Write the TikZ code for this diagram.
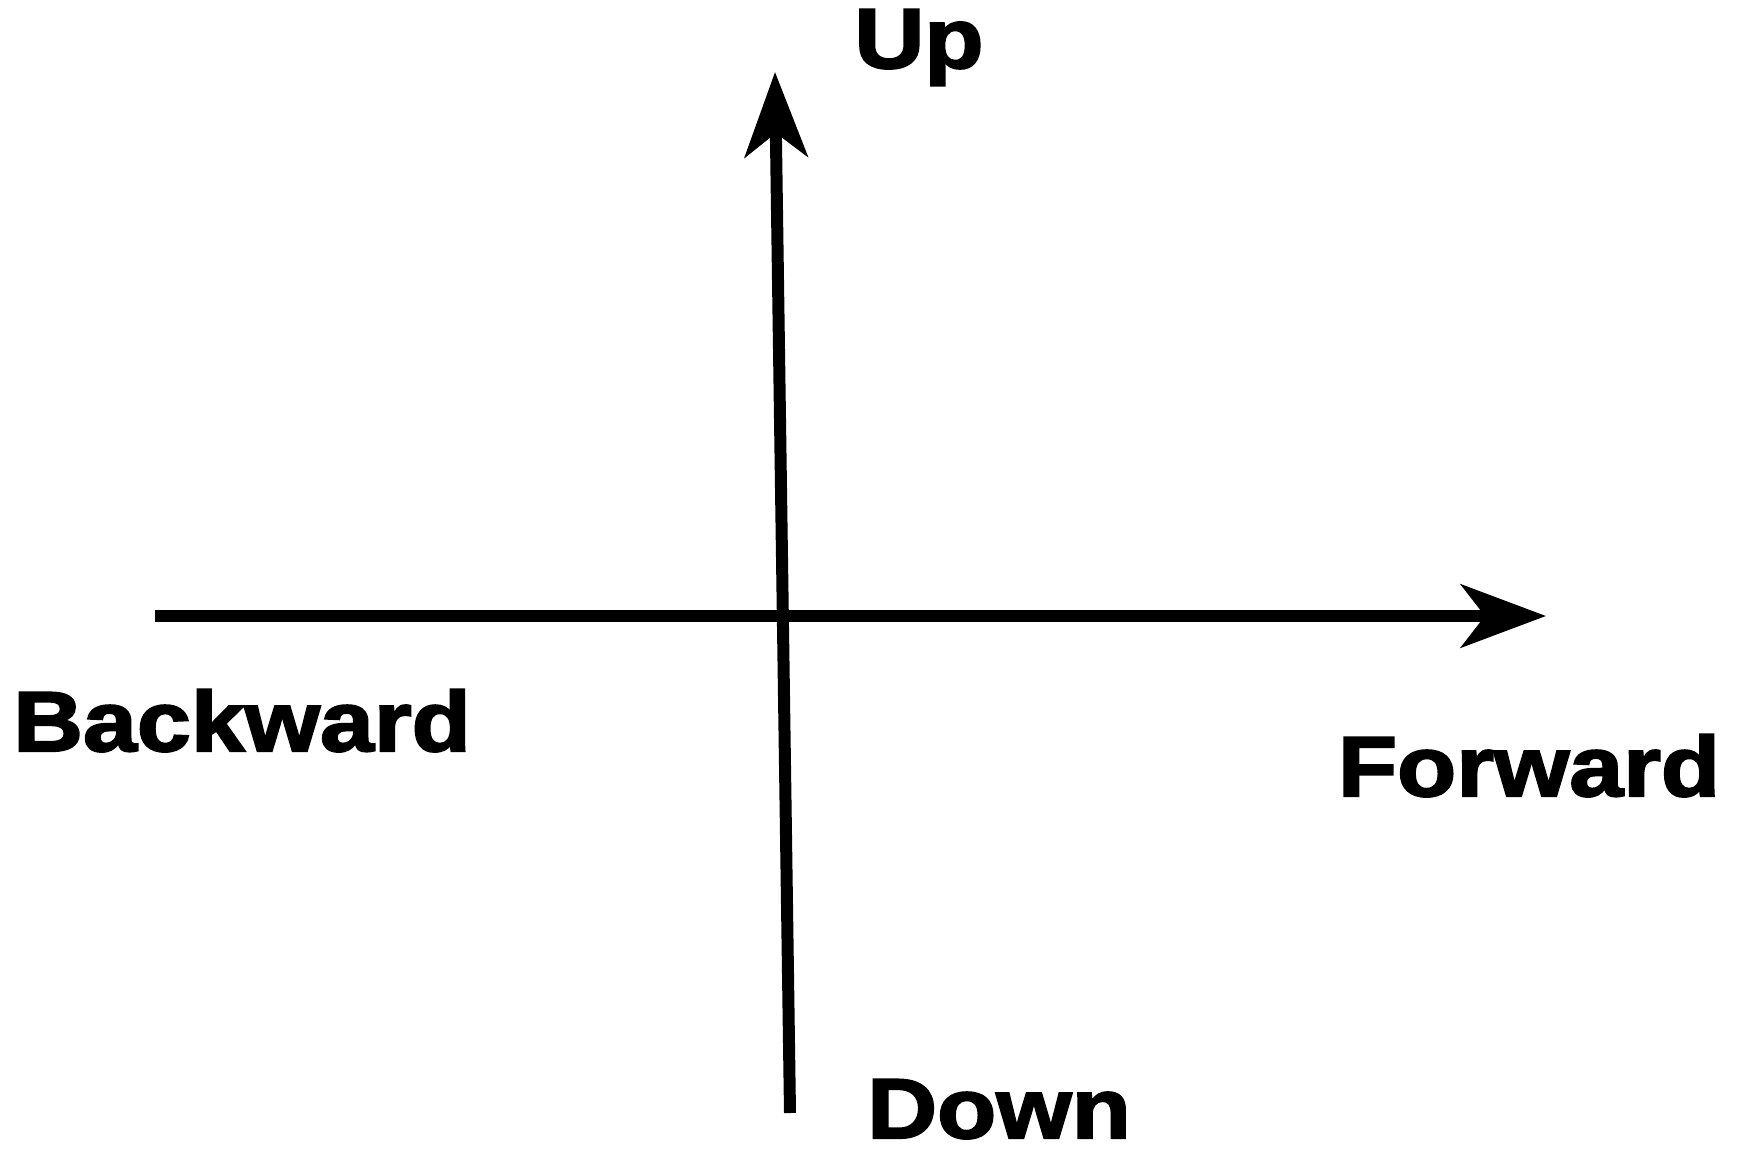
\documentclass[tikz,border=0pt]{standalone}
\usepackage{fontspec}
\usepackage{tikz}
\usetikzlibrary{arrows.meta}
\newfontfamily\lblfont{Liberation Sans}[BoldFeatures={FakeStretch=1.14,FakeBold=2.5}]
\tikzset{
  axis/.style={line width=12pt,-{Stealth[length=85pt,width=63pt,inset=24pt]}},
  lbl/.style={inner sep=0pt,anchor=base,font=\lblfont\bfseries\fontsize{85}{100}\selectfont}
}
\begin{document}
\begin{tikzpicture}[x=1pt,y=-1pt]
  \useasboundingbox (0,0) rectangle (1740,1153);

  % Axis ends
  \coordinate (back) at (155,616);
  \coordinate (fwd) at (1546,616);
  \coordinate (down) at (790,1113);
  \coordinate (up) at (775,72);

  \draw[axis] (back) -- (fwd);
  \draw[axis] (down) -- (up);

  % Labels
  \node[lbl] (lup) at (919,68) {Up};
  \node[lbl] (lback) at (242,751) {Backward};
  \node[lbl] (lfwd) at (1529,796) {Forward};
  \node[lbl] (ldown) at (999,1138) {Down};
\end{tikzpicture}
\end{document}
